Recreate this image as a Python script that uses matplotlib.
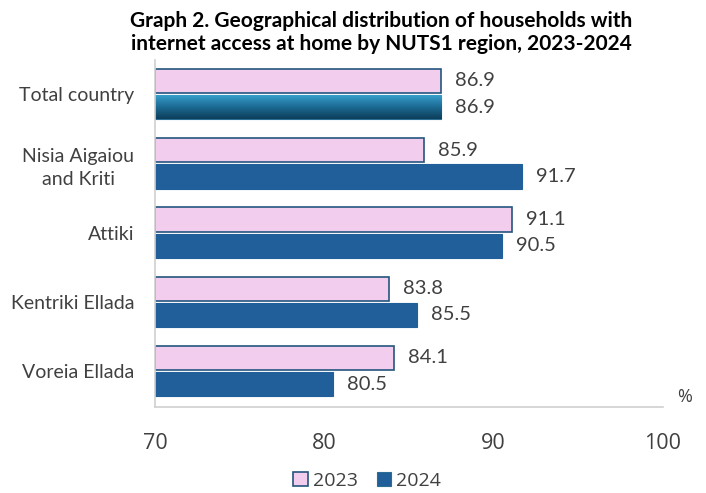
import matplotlib
matplotlib.use("Agg")
import matplotlib.pyplot as plt
from matplotlib.colors import LinearSegmentedColormap
import numpy as np

regions = ["Total country", "Nisia Aigaiou\nand Kriti", "Attiki", "Kentriki Ellada", "Voreia Ellada"]
vals_2023 = [86.9, 85.9, 91.1, 83.8, 84.1]
vals_2024 = [86.9, 91.7, 90.5, 85.5, 80.5]
xticks = [70, 80, 90, 100]

plt.rcParams['font.family'] = ['Lato', 'DejaVu Sans']

pink = '#F2CDEE'
blue = '#215F9A'
edge = '#24557F'
txt = '#404040'

fig = plt.figure(figsize=(7.06, 4.93), dpi=100)
ax = fig.add_axes([0.2195, 0.1744, 0.7195, 0.7036])

y = np.arange(len(regions))
h = 0.35
gap = 0.03
b1 = ax.barh(y - h/2 - gap/2, [v - 70 for v in vals_2023], left=70, height=h,
             color=pink, edgecolor=edge, linewidth=1.2, label='2023')
b2 = ax.barh(y + h/2 + gap/2, [v - 70 for v in vals_2024], left=70, height=h,
             color=blue, edgecolor=blue, linewidth=0.8, label='2024')

# gradient fill on the total-country 2024 bar (light on top, dark below)
p = b2.patches[0]
p.set_edgecolor('#2A6E96')
grad = np.linspace(0, 1, 100).reshape(-1, 1)
cmap = LinearSegmentedColormap.from_list('g', ['#3AA3CF', '#1C6C95', '#0E3E5A'])
x0, y0 = p.get_x(), p.get_y()
im = ax.imshow(grad, cmap=cmap, aspect='auto',
               extent=[x0, x0 + p.get_width(), y0, y0 + p.get_height()],
               origin='lower', zorder=2.1)
im.set_clip_path(p)

for bars, vals in ((b1, vals_2023), (b2, vals_2024)):
    for r, v in zip(bars.patches, vals):
        ax.annotate(f"{v:.1f}", (v, r.get_y() + r.get_height()/2),
                    xytext=(10, 0), textcoords='offset points',
                    va='center', ha='left', fontsize=14.5, color=txt)

ax.set_xlim(70, 100)
ax.set_ylim(4.52, -0.49)
ax.set_yticks(y)
ax.set_yticklabels(regions, fontsize=14, color=txt, linespacing=1.45,
                   multialignment='center')
ax.set_xticks(xticks)
ax.set_xticklabels([str(t) for t in xticks], fontsize=15.5, color=txt,
                   family=['Open Sans', 'DejaVu Sans'])
ax.tick_params(axis='both', length=0)
ax.tick_params(axis='x', pad=19)
ax.tick_params(axis='y', pad=15)
for s in ('top', 'right'):
    ax.spines[s].set_visible(False)
for s in ('left', 'bottom'):
    ax.spines[s].set_color('#D0D0D0')
    ax.spines[s].set_linewidth(1.2)

ax.text(1.042, 0.03, '%', transform=ax.transAxes, fontsize=13, color=txt,
        ha='center', va='center', family=['Open Sans', 'DejaVu Sans'])

fig.text(0.54, 0.934, "Graph 2. Geographical distribution of households with\ninternet access at home by NUTS1 region, 2023-2024",
         ha='center', va='center', fontsize=15, fontweight='bold', color='black',
         linespacing=1.15)

leg = fig.legend(handles=[b1, b2], loc='center', bbox_to_anchor=(0.52, 0.025),
                 ncol=2, frameon=False, handlelength=0.75,
                 handleheight=0.75, handletextpad=0.25, columnspacing=1.0,
                 prop={'family': ['Open Sans', 'DejaVu Sans'], 'size': 14})
for t in leg.get_texts():
    t.set_color(txt)

fig.savefig('out.png', dpi=100)
